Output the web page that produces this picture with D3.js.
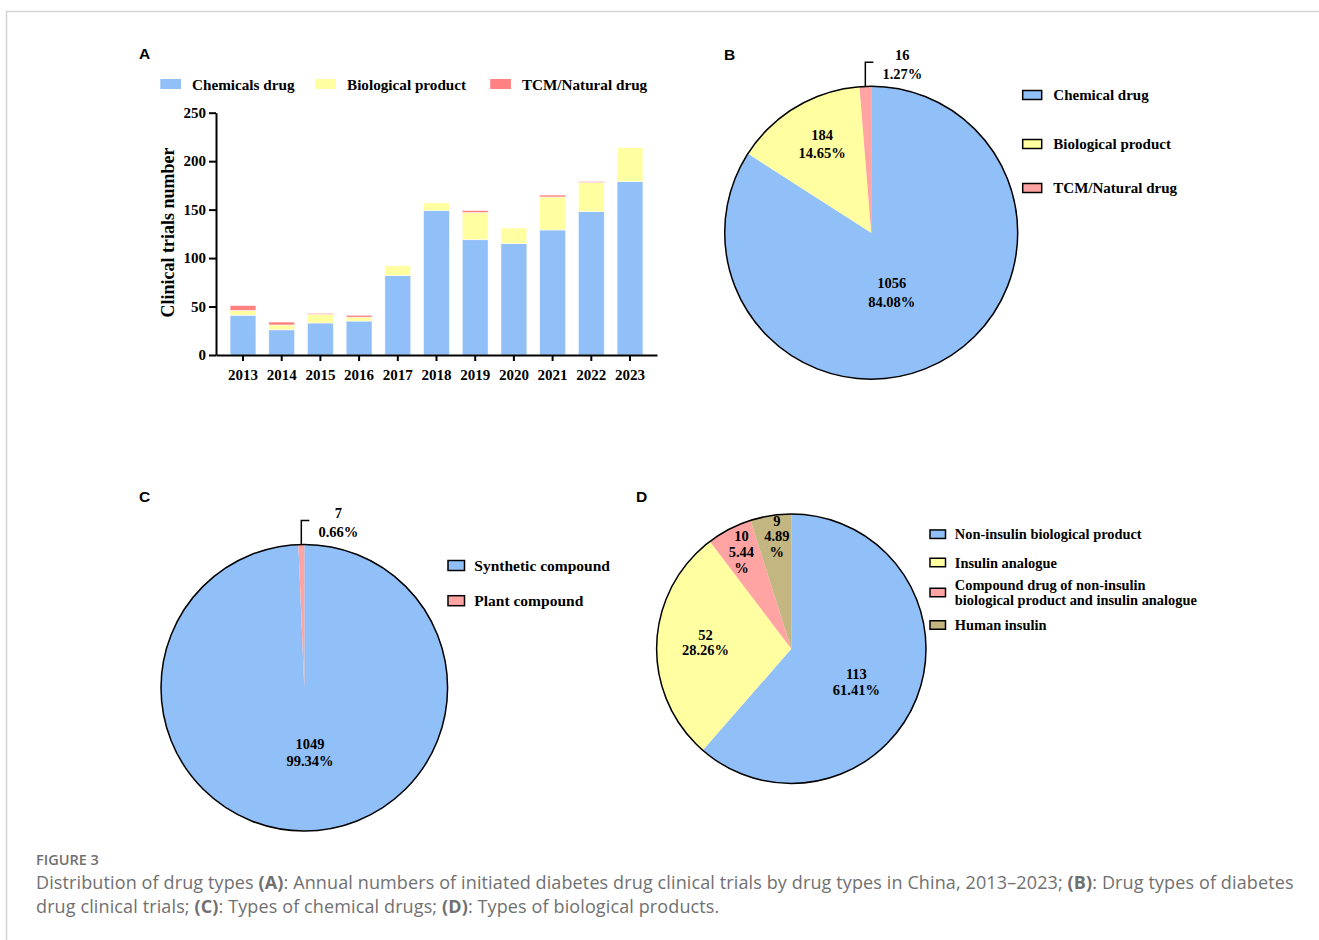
<!DOCTYPE html>
<html>
<head>
  <meta charset="utf-8">
  <title>Figure 3</title>
  <style>
    body,html{
      margin:0;
      padding:0;
      background:#fff;
    }
    svg{ display:block; }
    .serif{ font-family:"Liberation Serif","Times New Roman",serif; font-weight:bold; fill:#000; }
    .panel{ font-family:"Liberation Sans",Arial,sans-serif; font-weight:bold; font-size:15.5px; }
    .axis path,.axis line{ stroke:#000; stroke-width:2; }
    .axis text{ font-family:"Liberation Serif","Times New Roman",serif; font-weight:bold; font-size:15px; fill:#000; }
    .caption{ font-family:"Open Sans",sans-serif; fill:#707070; }
  </style>
</head>
<body>
  <div id="container"></div>
  <script src="https://d3js.org/d3.v7.min.js"></script>
  <script type="text/javascript">

    // panel A - annual trials by drug type
    var years = ['2013','2014','2015','2016','2017','2018','2019','2020','2021','2022','2023'];
    var chemicals = [41, 26, 33, 35, 82, 149, 119, 115, 129, 148, 179];
    var biological = [5, 5, 9, 4, 10, 8, 28, 16, 34, 30, 35];
    var tcm = [5, 3, 1, 2, 0, 0, 2, 0, 2, 1, 0];
    var seriesA = ['Chemicals drug', 'Biological product', 'TCM/Natural drug'];
    var yTicks = [0, 50, 100, 150, 200, 250];

    // panel B - drug types
    var namesB = ['Chemical drug', 'Biological product', 'TCM/Natural drug'];
    var valuesB = [1056, 184, 16];
    var pctB = ['84.08%', '14.65%', '1.27%'];

    // panel C - chemical drugs
    var namesC = ['Synthetic compound', 'Plant compound'];
    var valuesC = [1049, 7];
    var pctC = ['99.34%', '0.66%'];

    // panel D - biological products
    var namesD = ['Non-insulin biological product', 'Insulin analogue',
      'Compound drug of non-insulin|biological product and insulin analogue', 'Human insulin'];
    var valuesD = [113, 52, 10, 9];
    var pctD = ['61.41%', '28.26%', '5.44%', '4.89%'];

    var blue = '#91bff8', yellow = '#ffffa2', barRed = '#ff8282', pink = '#ffa3a3', brown = '#c3b680';

    var W = 1319, H = 940;
    var svg = d3.select('#container').append('svg').attr('width', W).attr('height', H);

    // frame
    svg.append('path').attr('d', 'M6.5,' + H + 'V11.5H' + W)
      .attr('fill', 'none').attr('stroke', '#d4d4d4').attr('stroke-width', 1.5);

    // ---------- A ----------
    svg.append('text').attr('class', 'panel').attr('x', 139).attr('y', 59).text('A');

    var x = d3.scaleBand().domain(years).range([216, 657]).paddingInner(0.333).paddingOuter(0.364);
    var y = d3.scaleLinear().domain([0, 250]).range([355, 112.7]);

    var stack = d3.stack().keys([0, 1, 2])(years.map(function(d, i){
      return [chemicals[i], biological[i], tcm[i]];
    }));
    var barColors = [blue, yellow, barRed];

    var gA = svg.append('g');
    gA.selectAll('g.layer').data(stack).enter().append('g').attr('class', 'layer')
      .attr('fill', function(d, i){ return barColors[i]; })
      .each(function(layer){
        d3.select(this).selectAll('rect')
          .data(layer.map(function(d, i){ return { v: d, year: years[i] }; })
            .filter(function(d){ return d.v[1] > d.v[0]; }))
          .enter().append('rect')
          .attr('x', function(d){ return x(d.year); })
          .attr('width', x.bandwidth())
          .attr('y', function(d){ return y(d.v[1]); })
          .attr('height', function(d){ return y(d.v[0]) - y(d.v[1]); })
          .attr('stroke', '#fff').attr('stroke-opacity', 0.6).attr('stroke-width', 0.8);
      });

    gA.append('g').attr('class', 'axis').attr('transform', 'translate(216,0)')
      .call(d3.axisLeft(y).tickValues(yTicks).tickSize(7).tickSizeOuter(0).tickPadding(3));
    gA.append('g').attr('class', 'axis').attr('transform', 'translate(0,355)')
      .call(d3.axisBottom(x).tickSize(6).tickSizeOuter(0).tickPadding(8));

    svg.append('text').attr('class', 'serif').attr('font-size', 18)
      .attr('text-anchor', 'middle')
      .attr('transform', 'translate(174,232.5) rotate(-90)')
      .text('Clinical trials number');

    // legend A
    var legA = [160.3, 315.3, 490.2];
    seriesA.forEach(function(s, i){
      svg.append('rect').attr('x', legA[i]).attr('y', 79).attr('width', 20.7).attr('height', 10)
        .attr('fill', barColors[i]);
      svg.append('text').attr('class', 'serif').attr('font-size', 15.2)
        .attr('x', legA[i] + 31.7).attr('y', 89.5).text(s);
    });

    // ---------- pies ----------
    function drawPie(p){
      var arcs = d3.pie().sort(null)(p.values);
      var arc = d3.arc().innerRadius(0).outerRadius(p.r);
      var g = svg.append('g').attr('transform', 'translate(' + p.cx + ',' + p.cy + ')');
      g.selectAll('path.slice').data(arcs).enter().append('path').attr('class', 'slice')
        .attr('d', arc).attr('fill', function(d, i){ return p.colors[i]; });
      g.append('circle').attr('r', p.r).attr('fill', 'none')
        .attr('stroke', '#000').attr('stroke-width', 1.5);

      arcs.forEach(function(d, i){
        var mid = (d.startAngle + d.endAngle) / 2;
        var lines = [String(p.values[i]), p.pct[i]];
        if (p.split && p.split[i]) lines = [String(p.values[i]), p.pct[i].replace('%', ''), '%'];
        if (p.leader === i){
          var lx = p.r * Math.sin(mid), top = -p.r - 24;
          g.append('path').attr('d', 'M' + lx + ',' + (-p.r) + 'V' + top + 'H' + (lx + 8))
            .attr('fill', 'none').attr('stroke', '#000').attr('stroke-width', 1.5);
          lines.forEach(function(t, k){
            g.append('text').attr('class', 'serif').attr('font-size', p.fs)
              .attr('text-anchor', 'middle').attr('x', lx + 37).attr('y', top - 2 + k * 18.5).text(t);
          });
        } else {
          var a = mid + p.nudge[i], rr = p.r * p.labelR[i];
          var tx = rr * Math.sin(a), ty = -rr * Math.cos(a);
          lines.forEach(function(t, k){
            g.append('text').attr('class', 'serif').attr('font-size', p.fs)
              .attr('text-anchor', 'middle').attr('x', tx)
              .attr('y', ty + (k - (lines.length - 1) / 2) * p.lh).text(t);
          });
        }
      });

      p.names.forEach(function(n, i){
        var ly = p.leg.y[i];
        svg.append('rect').attr('x', p.leg.x).attr('y', ly - p.leg.h / 2)
          .attr('width', p.leg.w).attr('height', p.leg.h)
          .attr('fill', p.colors[i]).attr('stroke', '#000').attr('stroke-width', 1.5);
        n.split('|').forEach(function(t, k, all){
          svg.append('text').attr('class', 'serif').attr('font-size', p.leg.fs)
            .attr('x', p.leg.tx).attr('y', ly + 5 + (k - (all.length - 1) / 2) * 15).text(t);
        });
      });
    }

    svg.append('text').attr('class', 'panel').attr('x', 724).attr('y', 60).text('B');
    drawPie({
      cx: 871.2, cy: 232.7, r: 146.5,
      values: valuesB, pct: pctB, names: namesB,
      colors: [blue, yellow, pink],
      labelR: [0.464, 0.663, 0], nudge: [0.194, 0.01, 0],
      leader: 2, fs: 14.5, lh: 18.4,
      leg: { x: 1022.7, w: 19, h: 9, tx: 1053.3, fs: 15, y: [95, 144, 188] }
    });

    svg.append('text').attr('class', 'panel').attr('x', 139).attr('y', 502).text('C');
    drawPie({
      cx: 304.3, cy: 687.7, r: 143.3,
      values: valuesC, pct: pctC, names: namesC,
      colors: [blue, pink],
      labelR: [0.49, 0], nudge: [-0.06, 0],
      leader: 1, fs: 14.5, lh: 17.4,
      leg: { x: 448, w: 16.5, h: 10, tx: 474.3, fs: 15.5, y: [565.5, 600.7] }
    });

    svg.append('text').attr('class', 'panel').attr('x', 636).attr('y', 502).text('D');
    drawPie({
      cx: 791.3, cy: 648.8, r: 134.7,
      values: valuesD, pct: pctD, names: namesD,
      colors: [blue, yellow, pink, brown],
      labelR: [0.561, 0.637, 0.776, 0.805], nudge: [0.175, -0.02, -0.02, 0.02],
      split: [false, false, true, true],
      leader: -1, fs: 14.5, lh: 15.6,
      leg: { x: 930, w: 15.5, h: 8.5, tx: 954.8, fs: 14.4, y: [534.2, 562.5, 592.5, 625] }
    });

    // ---------- caption ----------
    svg.append('text').attr('class', 'caption').attr('x', 36).attr('y', 864.5)
      .attr('font-size', 14.5).attr('font-weight', 600).attr('fill', '#7a7a7a').text('FIGURE 3');

    var capLines = [
      [['Distribution of drug types ', 0], ['(A)', 1],
       [': Annual numbers of initiated diabetes drug clinical trials by drug types in China, 2013\u20132023; ', 0],
       ['(B)', 1], [': Drug types of diabetes', 0]],
      [['drug clinical trials; ', 0], ['(C)', 1], [': Types of chemical drugs; ', 0], ['(D)', 1],
       [': Types of biological products.', 0]]
    ];
    capLines.forEach(function(line, i){
      var t = svg.append('text').attr('class', 'caption').attr('x', 36).attr('y', 889 + i * 24)
        .attr('font-size', 18).attr('letter-spacing', 0.12);
      line.forEach(function(seg){
        t.append('tspan').attr('font-weight', seg[1] ? 700 : 400).text(seg[0]);
      });
    });

  </script>
</body>
</html>
